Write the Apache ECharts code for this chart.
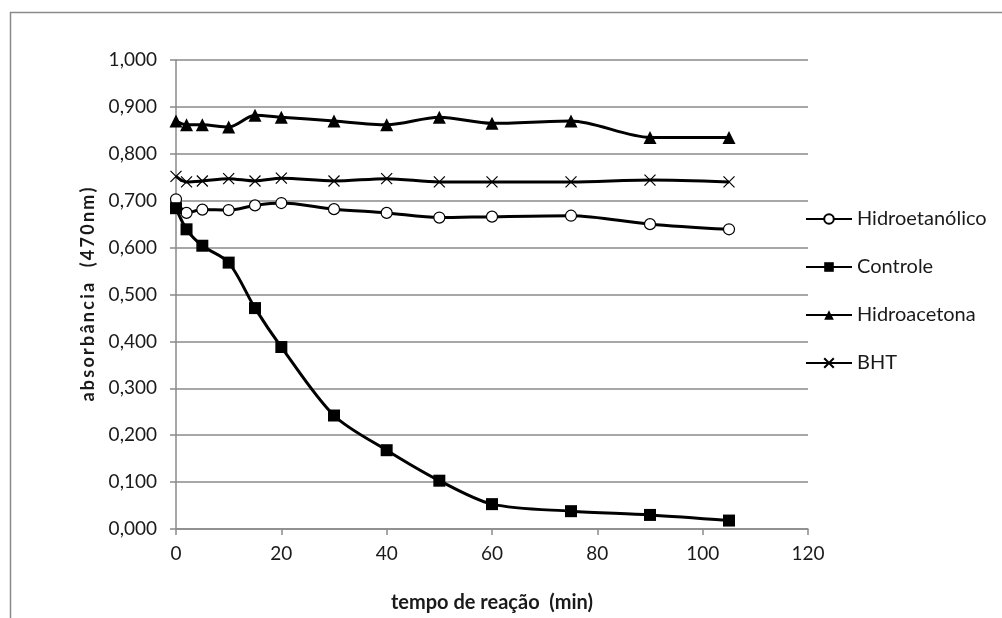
<!DOCTYPE html>
<html>
<head>
<meta charset="utf-8">
<script src="https://cdn.jsdelivr.net/npm/echarts@6/dist/echarts.min.js"></script>
<style>
  html, body { margin: 0; padding: 0; background: #fff; }
  #chart { width: 1002px; height: 618px; }
</style>
</head>
<body>
<div id="chart"></div>
<script>
// Reaction time (min) at which absorbance was read
const tempo = [0, 2, 5, 10, 15, 20, 30, 40, 50, 60, 75, 90, 105];

// Absorbance at 470 nm for each sample
const hidroetanolico = [0.703, 0.674, 0.681, 0.680, 0.690, 0.695, 0.682, 0.674, 0.664, 0.666, 0.668, 0.650, 0.639];
const controle       = [0.684, 0.639, 0.604, 0.568, 0.471, 0.388, 0.242, 0.168, 0.103, 0.053, 0.038, 0.030, 0.018];
const hidroacetona   = [0.870, 0.862, 0.862, 0.857, 0.882, 0.878, 0.870, 0.862, 0.878, 0.865, 0.870, 0.835, 0.835];
const bht            = [0.752, 0.740, 0.742, 0.747, 0.742, 0.748, 0.742, 0.747, 0.740, 0.740, 0.740, 0.744, 0.740];

const seriesNames = ['Hidroetanólico', 'Controle', 'Hidroacetona', 'BHT'];
const xTicks = { min: 0, max: 120, step: 20 };
const yTicks = { min: 0, max: 1, step: 0.1 };

const xTitle = 'tempo de reação  (min)';
const yTitle = 'absorbância  (470nm)';

const FONT = 'Lato';
const TXT = '#1a1a1a';
const AXIS = '#8a8a8a';
const crossPath = 'path://M0,0L10,10M10,0L0,10';

// spread the letters of the vertical title with thin spaces
function spaced(s) {
  return Array.from(s).join('\u2009');
}

function pairs(values) {
  return tempo.map((t, i) => [t, values[i]]);
}

function lineSeries(name, values, symbol, size, itemStyle) {
  return {
    name: name,
    type: 'line',
    data: pairs(values),
    smooth: 0.3,
    symbol: symbol,
    symbolSize: size,
    showAllSymbol: true,
    lineStyle: { color: '#000', width: 3 },
    itemStyle: itemStyle,
    emphasis: { disabled: true }
  };
}

const chart = echarts.init(document.getElementById('chart'), null, { renderer: 'canvas' });

chart.setOption({
  animation: false,
  backgroundColor: '#fff',
  graphic: [{
    type: 'rect',
    shape: { x: 10.5, y: 12.5, width: 1000, height: 700 },
    style: { fill: 'none', stroke: AXIS, lineWidth: 1.5 },
    silent: true,
    z: -10
  }],
  grid: { left: 176, right: 194, top: 60, bottom: 89, containLabel: false },
  xAxis: {
    type: 'value',
    min: xTicks.min, max: xTicks.max, interval: xTicks.step,
    name: xTitle,
    nameLocation: 'middle',
    nameGap: 64,
    nameTextStyle: { fontFamily: FONT, fontSize: 20, fontWeight: 'bold', color: TXT },
    axisLine: { lineStyle: { color: AXIS, width: 1.5 } },
    axisTick: { show: true, length: 6, lineStyle: { color: AXIS, width: 1.5 } },
    axisLabel: { fontFamily: FONT, fontSize: 19, color: TXT, margin: 15 },
    splitLine: { show: false }
  },
  yAxis: {
    type: 'value',
    min: yTicks.min, max: yTicks.max, interval: yTicks.step,
    name: spaced(yTitle),
    nameLocation: 'middle',
    nameGap: 79,
    nameTextStyle: { fontFamily: FONT, fontSize: 18, fontWeight: 'bold', color: TXT },
    axisLine: { show: true, lineStyle: { color: AXIS, width: 1.5 } },
    axisTick: { show: true, length: 6, lineStyle: { color: AXIS, width: 1.5 } },
    axisLabel: {
      fontFamily: FONT, fontSize: 19, color: TXT, margin: 19,
      formatter: v => v.toFixed(3).replace('.', ',')
    },
    splitLine: { show: true, lineStyle: { color: AXIS, width: 1.5 } }
  },
  legend: {
    orient: 'vertical',
    left: 800,
    top: 204,
    itemWidth: 46,
    itemHeight: 12,
    itemGap: 28,
    data: seriesNames,
    textStyle: { fontFamily: FONT, fontSize: 20, color: TXT, lineHeight: 18 },
    selectedMode: false
  },
  series: [
    lineSeries(seriesNames[0], hidroetanolico, 'circle', 11,
      { color: '#fff', borderColor: '#000', borderWidth: 1.2 }),
    lineSeries(seriesNames[1], controle, 'rect', 12,
      { color: '#000', borderColor: '#000', borderWidth: 0 }),
    lineSeries(seriesNames[2], hidroacetona, 'triangle', 13,
      { color: '#000', borderColor: '#000', borderWidth: 0 }),
    lineSeries(seriesNames[3], bht, crossPath, 11,
      { color: 'none', borderColor: '#000', borderWidth: 1.2 })
  ]
});
</script>
</body>
</html>
